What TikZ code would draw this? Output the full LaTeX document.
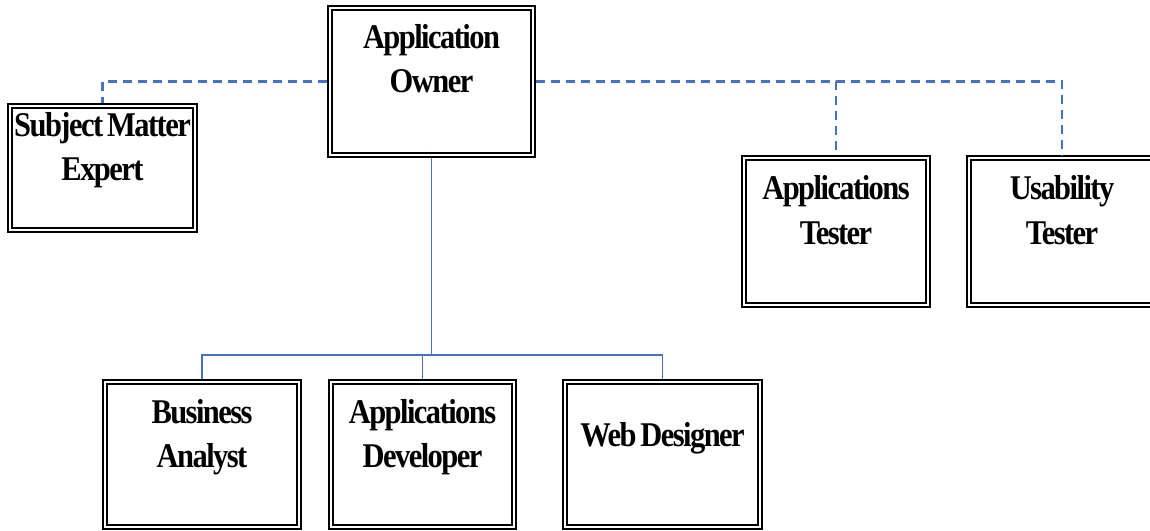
\documentclass[tikz,border=0pt]{standalone}
\usepackage{fontspec}
\setmainfont{Liberation Serif}[FakeStretch=0.88, LetterSpace=-4.5]
\usepackage{xcolor}
\definecolor{linkblue}{HTML}{4472C4}

\begin{document}
\begin{tikzpicture}[x=0.75pt, y=-0.75pt,
	rolebox/.style={draw=black, line width=0.9pt, double=white, double distance=2pt,
		anchor=north west, inner sep=0pt, outer sep=0pt, align=center,
		font=\fontsize{26}{33}\selectfont\bfseries,
		execute at begin node={\spaceskip=3pt\relax}},
	boxdim/.style n args={3}{text width=#1, text height=#2, text depth=#3},
	link/.style={draw=linkblue, line width=1.4pt, shorten <=1.9pt, shorten >=1.9pt},
	dashlink/.style={link, line width=1.7pt, dash pattern=on 6.75pt off 4.5pt}]

	% page, sizes in pixels
	\fill[white] (0,0) rectangle (1150,531);
	\useasboundingbox (0,0) rectangle (1150,531);

	% top row
	\node[rolebox, boxdim={152.25pt}{30.75pt}{79.5pt}] (owner) at (330,8) {Application\\Owner};
	\node[rolebox, boxdim={138.75pt}{23.25pt}{69.75pt}] (sme) at (10,106) {Subject Matter\\Expert};
	\node[rolebox, boxdim={138pt}{31.5pt}{78.75pt}] (apptest) at (744,158) {Applications\\Tester};
	\node[rolebox, boxdim={139.5pt}{31.5pt}{78.75pt}] (usatest) at (969,158) {Usability\\Tester};

	% bottom row
	\node[rolebox, boxdim={145.5pt}{30.75pt}{78pt}] (analyst) at (105,382) {Business\\Analyst};
	\node[rolebox, boxdim={137.25pt}{30.75pt}{78pt}] (developer) at (331,382) {Applications\\Developer};
	\node[rolebox, boxdim={146.25pt}{48pt}{60.75pt}] (webdes) at (565,382) {Web Designer};

	% direct reports
	\coordinate (fork) at (431.5,355);
	\draw[link, shorten >=0pt] (owner.south) -- (fork);
	\foreach \n in {analyst,developer,webdes}
		\draw[link, shorten <=0pt] (fork) -| (\n.north);

	% dotted line reports
	\draw[dashlink] (owner.west) -| (sme.north);
	\foreach \n in {apptest,usatest}
		\draw[dashlink] (owner.east) -| (\n.north);
\end{tikzpicture}
\end{document}
